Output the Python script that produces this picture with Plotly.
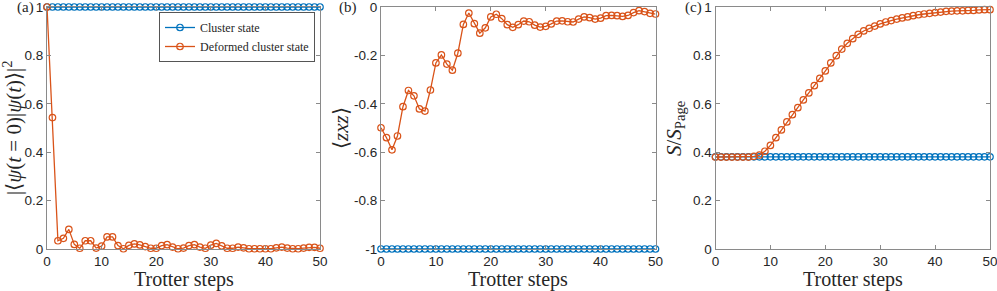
import plotly.graph_objects as go

steps = list(range(51))

fid_cluster = [1.0] * 51
fid_deformed = [1.0, 0.543, 0.034, 0.044, 0.081, 0.019, 0.003, 0.034, 0.034, 0.004,
                0.012, 0.050, 0.050, 0.014, 0.001, 0.015, 0.021, 0.017, 0.010, 0.003,
                0.003, 0.014, 0.018, 0.008, 0.001, 0.004, 0.014, 0.018, 0.008, 0.003,
                0.016, 0.023, 0.013, 0.003, 0.003, 0.008, 0.005, 0.001, 0.001, 0.001,
                0.001, 0.001, 0.005, 0.008, 0.004, 0.001, 0.001, 0.004, 0.007, 0.007,
                0.003]

zxz_cluster = [-1.0] * 51
zxz_deformed = [-0.499, -0.540, -0.590, -0.533, -0.412, -0.345, -0.367, -0.421, -0.430, -0.343,
                -0.231, -0.198, -0.236, -0.261, -0.191, -0.072, -0.025, -0.069, -0.108, -0.086,
                -0.041, -0.030, -0.048, -0.073, -0.084, -0.073, -0.058, -0.061, -0.075, -0.083,
                -0.080, -0.070, -0.058, -0.057, -0.061, -0.062, -0.050, -0.041, -0.044, -0.050,
                -0.046, -0.036, -0.035, -0.036, -0.039, -0.035, -0.023, -0.015, -0.019, -0.026,
                -0.029]

ent_cluster = [0.381] * 51
ent_deformed = [0.380, 0.380, 0.380, 0.380, 0.380, 0.380, 0.380, 0.383, 0.388, 0.404,
                0.428, 0.460, 0.492, 0.525, 0.555, 0.584, 0.616, 0.645, 0.675, 0.705,
                0.736, 0.769, 0.799, 0.826, 0.850, 0.869, 0.887, 0.901, 0.912, 0.921,
                0.930, 0.938, 0.944, 0.950, 0.955, 0.959, 0.964, 0.968, 0.971, 0.974,
                0.977, 0.979, 0.982, 0.983, 0.984, 0.984, 0.986, 0.986, 0.988, 0.989,
                0.989]

x_ticks = [0, 10, 20, 30, 40, 50]
y_ticks_pos = [0, 0.2, 0.4, 0.6, 0.8, 1]
y_ticks_neg = [-1, -0.8, -0.6, -0.4, -0.2, 0]

BLUE = "#0072BD"
ORANGE = "#D95319"
FRAME = "#8a8a8a"
TEXT = "#262626"
SERIF = "Liberation Serif, Times New Roman, serif"
SANS = "Liberation Sans, Arial, sans-serif"

W, H = 997, 291

fig = go.Figure()

panels = [
    (fid_cluster, fid_deformed, ""),
    (zxz_cluster, zxz_deformed, "2"),
    (ent_cluster, ent_deformed, "3"),
]

for i, (c, d, suf) in enumerate(panels):
    for vals, col, name in [(c, BLUE, "Cluster state"), (d, ORANGE, "Deformed cluster state")]:
        fig.add_trace(go.Scatter(
            x=steps, y=vals, mode="lines+markers", name=name,
            line=dict(color=col, width=1.3),
            marker=dict(symbol="circle-open", size=6.5, color=col, line=dict(width=1.2, color=col)),
            xaxis="x" + suf, yaxis="y" + suf, showlegend=(i == 0), cliponaxis=False,
        ))

xdoms = [(47 / W, 320 / W), (381 / W, 655.5 / W), (715.5 / W, 990 / W)]
ydom = (1 - 249 / H, 1 - 7 / H)
yranges = [[0, 1], [-1, 0], [0, 1]]
ytickvals = [y_ticks_pos, y_ticks_neg, y_ticks_pos]

def fmt(v):
    return "%g" % v

common_axis = dict(showline=True, linecolor=FRAME, linewidth=1, mirror="ticks", ticks="inside",
                   ticklen=4, tickcolor=FRAME, showgrid=False, zeroline=False,
                   ticklabeloverflow="allow", automargin=False,
                   tickfont=dict(family=SANS, size=13.5, color=TEXT))

layout = dict(
    width=W, height=H, margin=dict(l=0, r=0, t=0, b=0, pad=0, autoexpand=False),
    plot_bgcolor="white", paper_bgcolor="white", showlegend=True,
    legend=dict(x=315 / W, y=1 - 12 / H, xanchor="right", yanchor="top",
                bgcolor="white", bordercolor="#555555", borderwidth=1,
                font=dict(family=SERIF, size=12, color=TEXT), tracegroupgap=0,
                itemwidth=30),
)
for i in range(3):
    suf = "" if i == 0 else str(i + 1)
    layout["xaxis" + suf] = dict(common_axis, domain=xdoms[i], range=[0, 50], anchor="y" + suf,
                                 tickvals=x_ticks, ticktext=[fmt(v) for v in x_ticks])
    layout["yaxis" + suf] = dict(common_axis, domain=ydom, range=yranges[i], anchor="x" + suf,
                                 tickvals=ytickvals[i], ticktext=[fmt(v) for v in ytickvals[i]])

fig.update_layout(**layout)

# x-axis titles
for xd in xdoms:
    fig.add_annotation(text="Trotter steps", x=(xd[0] + xd[1]) / 2, y=1 - 279 / H,
                       xref="paper", yref="paper", showarrow=False,
                       xanchor="center", yanchor="middle",
                       font=dict(family=SERIF, size=20, color=TEXT))

ylabels = [
    ("|⟨<i>ψ</i>(<i>t</i> = 0)|<i>ψ</i>(<i>t</i>)⟩|<sup>2</sup>", 12 / W),
    ("⟨<i>zxz</i>⟩", 341 / W),
    ("<i>S</i>/<i>S</i><sub>Page</sub>", 675 / W),
]
for text, xp in ylabels:
    fig.add_annotation(text=text, x=xp, y=(ydom[0] + ydom[1]) / 2, xref="paper", yref="paper",
                       textangle=-90, showarrow=False, xanchor="center", yanchor="middle",
                       font=dict(family=SERIF, size=21, color=TEXT))

for lab, xp in [("(a)", 25 / W), ("(b)", 348 / W), ("(c)", 693 / W)]:
    fig.add_annotation(text=lab, x=xp, y=1 - 7 / H, xref="paper", yref="paper",
                       showarrow=False, xanchor="center", yanchor="middle",
                       font=dict(family=SERIF, size=15, color=TEXT))

fig.write_html("out.html", config={"displayModeBar": False},
               post_script="document.body.style.margin='0px';document.body.style.overflow='hidden';")
